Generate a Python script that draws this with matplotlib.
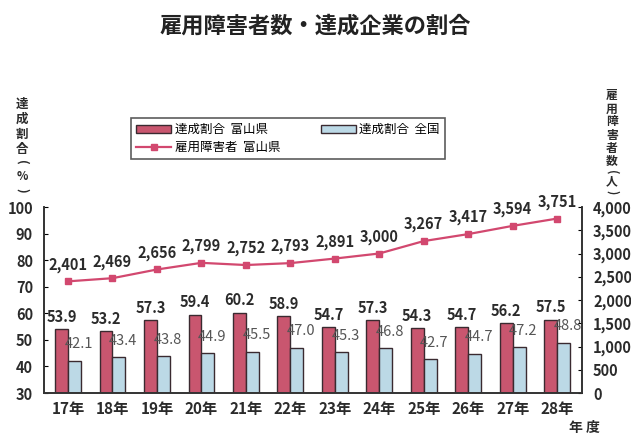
import matplotlib
matplotlib.use("Agg")
import matplotlib.pyplot as plt
import numpy as np
from matplotlib.patches import Patch
from matplotlib.lines import Line2D

plt.rcParams['font.family'] = ['Noto Sans CJK JP', 'DejaVu Sans']

years = ["17年", "18年", "19年", "20年", "21年", "22年", "23年", "24年", "25年", "26年", "27年", "28年"]
toyama_rate = [53.9, 53.2, 57.3, 59.4, 60.2, 58.9, 54.7, 57.3, 54.3, 54.7, 56.2, 57.5]
national_rate = [42.1, 43.4, 43.8, 44.9, 45.5, 47.0, 45.3, 46.8, 42.7, 44.7, 47.2, 48.8]
employed = [2401, 2469, 2656, 2799, 2752, 2793, 2891, 3000, 3267, 3417, 3594, 3751]

red = "#c9566f"
blue = "#bcd9e6"
line_c = "#d2486f"
edge = "#3a2a30"
txt = "#2b2b2b"

fig = plt.figure(figsize=(6.31, 4.34), dpi=100)
ax = fig.add_axes([44/631, 1-393/434, (582-44)/631, (393-207)/434])
ax2 = ax.twinx()

x = np.arange(len(years))
w = 0.29
ax.bar(x - w/2, [v - 30 for v in toyama_rate], w, bottom=30, color=red, edgecolor=edge, linewidth=1.0, zorder=2)
ax.bar(x + w/2, [v - 30 for v in national_rate], w, bottom=30, color=blue, edgecolor=edge, linewidth=1.0, zorder=2)
ax.set_ylim(30, 100)
ax.set_xlim(-0.54, 11.56)
ax.set_yticks(range(30, 101, 10))
ax.set_xticks(x)
ax.set_xticklabels(years, fontsize=11, fontweight='bold', color=txt)
ax.tick_params(axis='y', direction='in', length=3, labelsize=10.5, labelcolor=txt, pad=8)
ax.tick_params(axis='x', length=0, pad=6)
for lab in ax.get_yticklabels():
    lab.set_fontweight('bold')

for i, v in enumerate(toyama_rate):
    ax.annotate(f"{v:.1f}", (x[i] - w/2, v), xytext=(0, 9), textcoords='offset points',
                ha='center', va='center', fontsize=10.5, fontweight='bold', color=txt)
for i, v in enumerate(national_rate):
    ax.annotate(f"{v:.1f}", (x[i] + w/2, v), xytext=(3, 12), textcoords='offset points',
                ha='center', va='center', fontsize=10.5, color="#555555")

ax2.plot(x, employed, color=line_c, marker='s', markersize=5, linewidth=1.6, zorder=3)
ax2.set_ylim(0, 4000)
ax2.set_yticks(range(0, 4001, 500))
ax2.set_yticklabels([f"{v:,}" for v in range(0, 4001, 500)], fontsize=10.5, fontweight='bold', color=txt)
ax2.tick_params(axis='y', direction='in', length=3, pad=8)
for i, v in enumerate(employed):
    ax2.annotate(f"{v:,}", (x[i], v), xytext=(0, 12), textcoords='offset points',
                 ha='center', va='center', fontsize=10.5, fontweight='bold', color=txt)

for a in (ax, ax2):
    a.spines['top'].set_visible(False)
    for s in ('left', 'right', 'bottom'):
        a.spines[s].set_color('#333333')
        a.spines[s].set_linewidth(1.2)

fig.text(0.5, 1-26/434, "雇用障害者数・達成企業の割合", ha='center', va='center', fontsize=16, fontweight='bold', color="#222222")

# vertical axis titles (stacked characters)
def vstack(xpx, items):
    for ch, ypx, rot, fs in items:
        fig.text(xpx/631, 1-ypx/434, ch, ha='center', va='center', fontsize=fs,
                 fontweight='bold', color=txt, rotation=rot)

vstack(22, [("達", 104, 0, 9), ("成", 119, 0, 9), ("割", 134, 0, 9), ("合", 149, 0, 9),
            ("(", 162, 270, 9), ("%", 176, 0, 8.5), (")", 190, 270, 9)])
vstack(612, [("雇", 96, 0, 8.5), ("用", 109, 0, 8.5), ("障", 122, 0, 8.5), ("害", 135, 0, 8.5),
             ("者", 148, 0, 8.5), ("数", 161, 0, 8.5), ("(", 172, 270, 8.5), ("人", 182, 0, 8.5),
             (")", 192, 270, 8.5)])

fig.text(584/631, 1-428/434, "年 度", ha='center', va='center', fontsize=10, fontweight='bold', color=txt)

handles = [Patch(facecolor=red, edgecolor=edge, label="達成割合  富山県"),
           Line2D([0], [0], color=line_c, marker='s', markersize=5, linewidth=1.6, label="雇用障害者  富山県"),
           Patch(facecolor=blue, edgecolor=edge, label="達成割合  全国")]
leg = fig.legend(handles=handles, loc='upper left', bbox_to_anchor=(125/631, 1-112/434), ncol=2,
                 fontsize=9, frameon=True, fancybox=False, edgecolor='#333333',
                 handlelength=2.8, handleheight=0.6, columnspacing=3.2, borderpad=0.4, labelspacing=0.4,
                 handletextpad=0.3)
leg.get_frame().set_linewidth(1.2)

fig.savefig("out.png", dpi=100, facecolor='white')
